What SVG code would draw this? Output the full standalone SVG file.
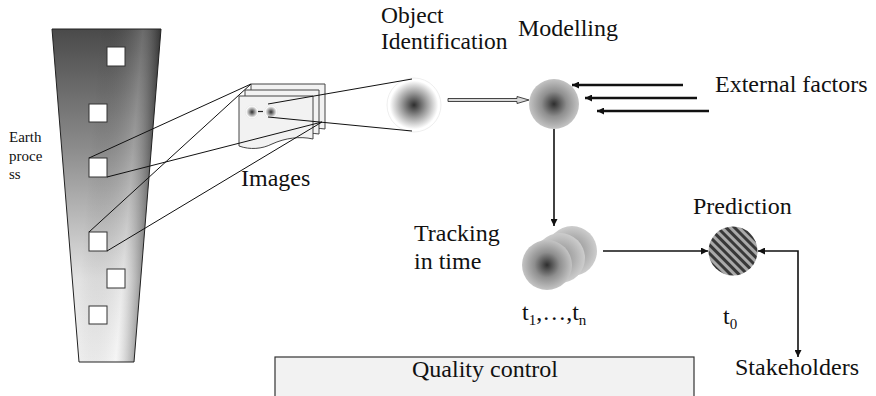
<svg xmlns="http://www.w3.org/2000/svg" width="876" height="396" viewBox="0 0 876 396" font-family="'Liberation Serif', 'Times New Roman', 'DejaVu Serif', serif">
  <style>
    .t { font-family: 'Liberation Serif', 'Times New Roman', 'DejaVu Serif', serif; font-size: 24px; fill: #111; }
    .small { font-size: 15px; }
    .ln { stroke: #111; stroke-width: 1; fill: none; }
    .arr { stroke: #111; stroke-width: 1.6; fill: none; }
    .bold { stroke: #111; stroke-width: 2.6; fill: none; }
    .sq { fill: #fff; stroke: #333; stroke-width: 1; }
    .sheet { fill: #f2f2f2; stroke: #444; stroke-width: 1; }
  </style>
  <defs>
    <linearGradient id="trapV" gradientUnits="userSpaceOnUse" x1="0" y1="29" x2="0" y2="362">
      <stop offset="0" stop-color="#4a4a4a"/>
      <stop offset="0.35" stop-color="#8a8a8a"/>
      <stop offset="0.75" stop-color="#e2e2e2"/>
      <stop offset="1" stop-color="#f4f4f4"/>
    </linearGradient>
    <linearGradient id="trapH" gradientUnits="userSpaceOnUse" x1="100" y1="29" x2="161" y2="34">
      <stop offset="0" stop-color="#000" stop-opacity="0"/>
      <stop offset="0.7" stop-color="#fff" stop-opacity="0.18"/>
      <stop offset="1" stop-color="#000" stop-opacity="0.32"/>
    </linearGradient>
    <radialGradient id="blobWhite">
      <stop offset="0" stop-color="#2e2e2e"/>
      <stop offset="0.45" stop-color="#9a9a9a"/>
      <stop offset="0.9" stop-color="#ffffff"/>
    </radialGradient>
    <radialGradient id="blobGrey">
      <stop offset="0" stop-color="#2e2e2e"/>
      <stop offset="0.5" stop-color="#8e8e8e"/>
      <stop offset="1" stop-color="#c4c4c4"/>
    </radialGradient>
    <radialGradient id="blobBack" cx="0.5" cy="0.5" r="0.5">
      <stop offset="0" stop-color="#8a8a8a"/>
      <stop offset="0.6" stop-color="#b0b0b0"/>
      <stop offset="1" stop-color="#cdcdcd"/>
    </radialGradient>
    <pattern id="hatch" width="6" height="6" patternUnits="userSpaceOnUse" patternTransform="rotate(45)">
      <rect width="6" height="6" fill="#a9a9a9"/>
      <rect width="6" height="3" fill="#383838"/>
    </pattern>
    <marker id="head" viewBox="0 0 10 10" refX="10" refY="5" markerUnits="userSpaceOnUse" markerWidth="9" markerHeight="7" orient="auto-start-reverse">
      <path d="M0,0 L10,5 L0,10 z" fill="#111"/>
    </marker>
  </defs>

  <!-- Earth process column -->
  <g id="earth-process">
    <polygon points="52,29 161,29 134,362 79,362" fill="url(#trapV)"/>
    <polygon points="52,29 161,29 134,362 79,362" fill="url(#trapH)" stroke="#222" stroke-width="1"/>
    <rect class="sq" x="107" y="47" width="18" height="19"/>
    <rect class="sq" x="89" y="104" width="18" height="18"/>
    <rect class="sq" x="89" y="158" width="18" height="19"/>
    <rect class="sq" x="89" y="232" width="18" height="19"/>
    <rect class="sq" x="107" y="269" width="18" height="19"/>
    <rect class="sq" x="89" y="306" width="18" height="18"/>
    <text class="t small" x="9" y="142">Earth<tspan x="9" y="161">proce</tspan><tspan x="9" y="179">ss</tspan></text>
  </g>

  <!-- Image stack -->
  <g id="images">
    <path class="sheet" d="M251,84 H325 V129 C312,127 300,130 290,133 L251,133 Z"/>
    <path class="sheet" d="M245,90 H319 V134 C306,132 294,135 284,139 L245,139 Z"/>
    <path class="sheet" d="M239,96 H313 V139 C300,136 285,138 272,144 C262,149 250,150 239,146 Z"/>
    <circle cx="252" cy="112" r="6.5" fill="url(#blobWhite)" stroke="#e4e4e4" stroke-width="0.6"/>
    <circle cx="271" cy="112" r="6.5" fill="url(#blobWhite)" stroke="#e4e4e4" stroke-width="0.6"/>
    <line x1="258" y1="111.5" x2="263" y2="111.5" stroke="#222" stroke-width="1.2"/>
    <text class="t" x="241" y="186">Images</text>
  </g>

  <!-- Object identification -->
  <g id="object-identification">
    <circle cx="414" cy="105" r="27" fill="url(#blobWhite)" stroke="#e2e2e2" stroke-width="0.6"/>
    <text class="t" x="381" y="23" style="font-size:23.5px">Object<tspan x="381" y="49">Identification</tspan></text>
  </g>

  <!-- Modelling -->
  <g id="modelling">
    <circle cx="554" cy="104" r="25" fill="url(#blobGrey)"/>
    <text class="t" x="518" y="36">Modelling</text>
  </g>

  <g id="external-factors">
    <text class="t" x="715" y="92">External factors</text>
  </g>

  <!-- Tracking in time -->
  <g id="tracking">
    <circle cx="572" cy="251" r="25" fill="url(#blobBack)"/>
    <circle cx="560" cy="258" r="25" fill="url(#blobBack)"/>
    <circle cx="547" cy="265" r="25" fill="url(#blobGrey)"/>
    <text class="t" x="414" y="241">Tracking<tspan x="414" y="269">in time</tspan></text>
    <text class="t" x="522" y="320">t<tspan class="small" dy="5">1</tspan><tspan dy="-5">,…,t</tspan><tspan class="small" dy="5">n</tspan></text>
  </g>

  <!-- Prediction -->
  <g id="prediction">
    <circle cx="733" cy="251" r="24.5" fill="url(#hatch)"/>
    <text class="t" x="693" y="214">Prediction</text>
    <text class="t" x="723" y="324">t<tspan class="small" dy="5">0</tspan></text>
  </g>

  <g id="stakeholders">
    <text class="t" x="735" y="375">Stakeholders</text>
  </g>

  <g id="quality-control">
    <rect x="275" y="357" width="419" height="50" fill="#f2f2f2" stroke="#333" stroke-width="1.2"/>
    <text class="t" x="485" y="377" text-anchor="middle">Quality control</text>
  </g>

  <!-- Connectors -->
  <g id="connectors">
    <!-- zoom lines from the earth column to the images -->
    <line class="ln" x1="89" y1="158" x2="251" y2="84"/>
    <line class="ln" x1="89" y1="232" x2="251" y2="84"/>
    <line class="ln" x1="107" y1="177" x2="322" y2="122"/>
    <line class="ln" x1="107" y1="251" x2="322" y2="122"/>
    <!-- zoom lines from the image object to the identified object -->
    <line class="ln" x1="268" y1="104" x2="412" y2="79"/>
    <line class="ln" x1="268" y1="117" x2="412" y2="131"/>
    <!-- hollow arrow: identification to modelling -->
    <polygon points="448,98.5 517,98.5 517,96.5 529,100 517,103.5 517,101.5 448,101.5" fill="#d8d8d8" stroke="#333" stroke-width="0.9"/>
    <!-- external factors -->
    <line class="bold" x1="683" y1="85" x2="572" y2="85" marker-end="url(#head)"/>
    <line class="bold" x1="697" y1="98" x2="585" y2="98" marker-end="url(#head)"/>
    <line class="bold" x1="709" y1="111" x2="597" y2="111" marker-end="url(#head)"/>
    <!-- modelling to tracking -->
    <line class="arr" x1="554" y1="129" x2="554" y2="226" marker-end="url(#head)"/>
    <!-- tracking to prediction -->
    <line class="arr" x1="603" y1="251" x2="708" y2="251" marker-end="url(#head)"/>
    <!-- prediction and stakeholders -->
    <path class="arr" d="M758,251 H798 V357" marker-start="url(#head)" marker-end="url(#head)"/>
  </g>
</svg>
